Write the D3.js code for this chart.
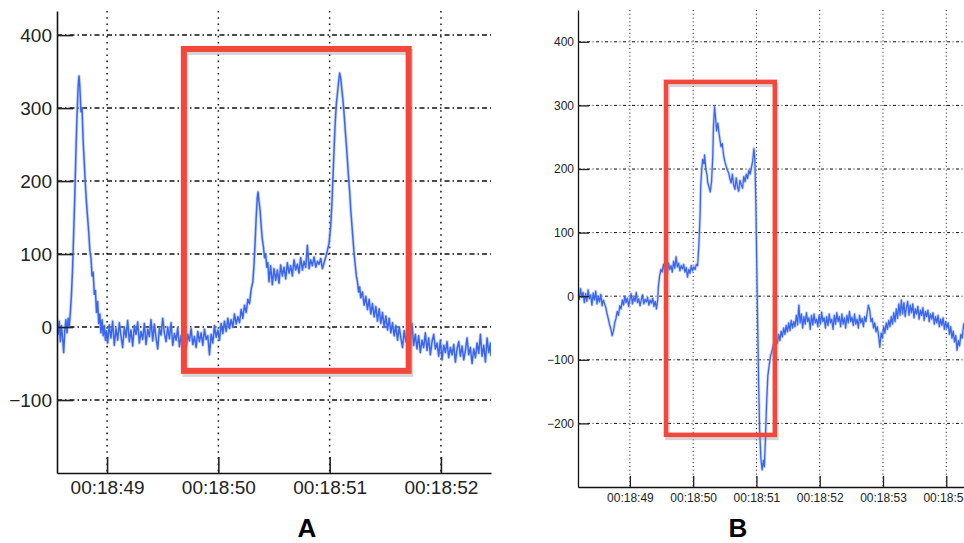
<!DOCTYPE html>
<html>
<head>
<meta charset="utf-8">
<script src="https://cdn.jsdelivr.net/npm/d3@7"></script>
<style>
  body { margin: 0; background: #fff; }
  svg { display: block; font-family: "Liberation Sans", Arial, sans-serif; }
</style>
</head>
<body>
<svg id="chart" width="964" height="543"></svg>
<script>
// samples as [seconds after 00:18:00, value]
var signalA = [
  [48.55,5],[48.56,-10],[48.57,8],[48.58,-20],[48.59,2],[48.60,-15],[48.61,-35],[48.62,-5],[48.63,10],[48.64,-8],
  [48.65,12],[48.66,0],[48.67,20],[48.68,45],[48.69,80],[48.70,130],[48.71,180],[48.72,240],[48.73,290],[48.74,330],
  [48.748,344],[48.755,330],[48.765,295],[48.775,300],[48.785,255],[48.795,225],[48.805,195],[48.815,170],[48.825,150],
  [48.835,130],[48.845,105],[48.855,95],[48.865,70],[48.875,75],[48.885,45],[48.895,50],[48.905,20],[48.915,35],
  [48.925,5],[48.935,18],[48.945,-8],[48.955,10],[48.965,-12],[48.975,2],[48.985,-18],[48.995,-5],
  [49.005,-22],[49.02,3],[49.035,-15],[49.05,8],[49.065,-25],[49.08,-2],[49.095,-18],[49.11,6],[49.125,-12],[49.14,-28],
  [49.155,0],[49.17,-14],[49.185,9],[49.2,-20],[49.215,-4],[49.23,-26],[49.245,2],[49.26,-10],[49.275,7],[49.29,-22],
  [49.305,-6],[49.32,-17],[49.335,5],[49.35,-24],[49.365,-3],[49.38,-13],[49.395,10],[49.41,-19],[49.425,4],[49.44,-15],
  [49.455,-30],[49.47,-2],[49.485,-11],[49.5,12],[49.515,-8],[49.53,-20],[49.545,0],[49.56,-16],[49.575,6],[49.59,-25],
  [49.605,-9],[49.62,-18],[49.635,-1],[49.65,-27],[49.665,-12],[49.68,-22],[49.695,-4],[49.71,-30],[49.725,-10],[49.74,-19],
  [49.755,-2],[49.77,-24],[49.785,-13],[49.8,-28],[49.815,-6],[49.83,-20],[49.845,-8],[49.86,-25],[49.875,-3],[49.89,-17],
  [49.905,-12],[49.92,-38],[49.935,-10],[49.95,-22],[49.965,2],[49.98,-14],[49.995,-4],[50.01,-18],[50.025,5],[50.04,-9],
  [50.055,8],[50.07,-6],[50.085,12],[50.1,-2],[50.115,10],[50.13,0],[50.145,18],[50.16,4],[50.175,14],[50.19,6],
  [50.205,24],[50.22,12],[50.235,30],[50.25,20],[50.265,38],[50.28,32],[50.295,52],[50.31,62],[50.32,85],[50.33,115],
  [50.34,150],[50.35,178],[50.357,185],[50.365,172],[50.375,160],[50.385,138],[50.395,120],[50.405,110],[50.415,95],
  [50.425,100],[50.435,82],[50.445,88],[50.455,62],[50.47,84],[50.485,58],[50.5,80],[50.515,64],[50.53,78],[50.545,60],
  [50.56,85],[50.575,70],[50.59,82],[50.605,66],[50.62,88],[50.635,74],[50.65,84],[50.665,70],[50.68,92],[50.695,78],
  [50.71,86],[50.725,74],[50.74,95],[50.755,78],[50.77,90],[50.785,82],[50.8,112],[50.815,80],[50.83,92],[50.845,84],
  [50.86,96],[50.875,82],[50.89,90],[50.905,86],[50.92,94],[50.935,80],[50.95,88],[50.965,96],[50.98,105],[50.995,115],
  [51.01,140],[51.02,168],[51.03,205],[51.04,245],[51.05,280],[51.06,305],[51.07,320],[51.08,335],[51.09,348],[51.1,340],
  [51.11,325],[51.12,310],[51.13,292],[51.14,270],[51.15,250],[51.16,228],[51.17,205],[51.18,185],[51.19,160],[51.2,140],
  [51.21,120],[51.22,100],[51.23,85],[51.24,70],[51.25,62],[51.26,48],[51.27,55],[51.28,40],[51.295,48],[51.31,30],
  [51.325,42],[51.34,24],[51.355,38],[51.37,18],[51.385,32],[51.4,14],[51.415,28],[51.43,8],[51.445,25],[51.46,5],
  [51.475,20],[51.49,0],[51.505,15],[51.52,-4],[51.535,12],[51.55,-8],[51.565,6],[51.58,-12],[51.595,2],[51.61,-18],
  [51.625,0],[51.64,-15],[51.655,-28],[51.67,-5],[51.685,-20],[51.7,-8],[51.715,-45],[51.725,-15],[51.74,5],[51.755,-25],
  [51.77,-10],[51.785,-30],[51.8,-12],[51.815,-35],[51.83,-18],[51.845,-28],[51.86,-8],[51.875,-32],[51.89,-15],[51.905,-38],
  [51.92,-20],[51.935,-10],[51.95,-30],[51.965,-22],[51.98,-40],[51.995,-18],[52.01,-45],[52.025,-25],[52.04,-35],[52.055,-20],
  [52.07,-42],[52.085,-28],[52.1,-38],[52.115,-24],[52.13,-48],[52.145,-30],[52.16,-20],[52.175,-40],[52.19,-26],[52.205,-45],
  [52.22,-32],[52.235,-15],[52.25,-38],[52.265,-28],[52.28,-50],[52.295,-30],[52.31,-42],[52.325,-22],[52.34,-36],[52.355,-10],
  [52.37,-40],[52.385,-25],[52.4,-48],[52.415,-15],[52.43,-35],[52.445,-22],[52.45,-40]
];

var signalB = [
  [48.18,8],[48.2,-5],[48.22,12],[48.24,-2],[48.26,6],[48.28,-10],[48.3,4],[48.32,-8],[48.34,10],[48.36,-4],
  [48.38,2],[48.4,-14],[48.42,5],[48.44,-6],[48.46,8],[48.48,-12],[48.5,0],[48.52,-9],[48.54,3],[48.56,-15],
  [48.58,-6],[48.6,-12],[48.62,-18],[48.64,-28],[48.66,-36],[48.68,-45],[48.7,-52],[48.72,-62],[48.74,-55],[48.76,-42],
  [48.78,-35],[48.8,-24],[48.82,-30],[48.84,-15],[48.86,-20],[48.88,-6],[48.9,-14],[48.92,0],[48.94,-10],[48.96,-3],
  [48.98,-16],[49.0,-5],[49.02,4],[49.04,-12],[49.06,-2],[49.08,-8],[49.1,6],[49.12,-10],[49.14,-4],[49.16,-15],
  [49.18,-6],[49.2,2],[49.22,-12],[49.24,-5],[49.26,-9],[49.28,-2],[49.3,-14],[49.32,-6],[49.34,-11],[49.36,-3],
  [49.38,-16],[49.4,-8],[49.42,-20],[49.44,-5],[49.45,15],[49.47,32],[49.49,42],[49.51,38],[49.53,50],[49.55,40],
  [49.57,46],[49.59,36],[49.61,52],[49.63,42],[49.65,48],[49.67,38],[49.69,55],[49.71,44],[49.73,62],[49.75,46],
  [49.77,52],[49.79,40],[49.81,48],[49.83,43],[49.85,50],[49.87,38],[49.89,45],[49.91,30],[49.93,42],[49.95,36],
  [49.97,48],[49.99,40],[50.01,46],[50.03,42],[50.05,50],[50.07,48],[50.09,80],[50.11,130],[50.12,175],[50.14,205],
  [50.15,215],[50.17,208],[50.18,222],[50.2,200],[50.22,190],[50.23,178],[50.25,172],[50.27,164],[50.29,180],[50.31,220],
  [50.32,265],[50.338,298],[50.35,285],[50.37,260],[50.39,272],[50.41,255],[50.44,235],[50.46,240],[50.48,222],[50.5,212],
  [50.52,205],[50.54,198],[50.56,194],[50.58,185],[50.6,178],[50.62,192],[50.64,175],[50.66,168],[50.68,186],[50.7,172],
  [50.72,165],[50.74,182],[50.76,175],[50.78,170],[50.8,188],[50.82,180],[50.84,192],[50.86,185],[50.88,198],[50.9,192],
  [50.92,202],[50.94,212],[50.96,232],[50.975,215],[50.99,150],[51.005,50],[51.02,-50],[51.035,-140],[51.05,-210],[51.07,-255],
  [51.09,-273],[51.11,-258],[51.125,-268],[51.14,-230],[51.16,-170],[51.18,-125],[51.2,-110],[51.22,-95],[51.24,-88],[51.27,-76],
  [51.29,-82],[51.31,-68],[51.33,-74],[51.35,-60],[51.37,-70],[51.39,-55],[51.41,-64],[51.43,-50],[51.45,-60],[51.47,-46],
  [51.49,-56],[51.51,-42],[51.53,-54],[51.55,-38],[51.57,-50],[51.59,-40],[51.61,-48],[51.63,-30],[51.65,-45],[51.67,-14],
  [51.69,-42],[51.71,-28],[51.73,-50],[51.75,-32],[51.77,-44],[51.79,-26],[51.81,-40],[51.83,-34],[51.85,-52],[51.87,-30],
  [51.89,-45],[51.91,-28],[51.93,-42],[51.95,-36],[51.97,-48],[51.99,-30],[52.01,-44],[52.03,-25],[52.05,-40],[52.07,-34],
  [52.09,-50],[52.11,-32],[52.13,-46],[52.15,-28],[52.17,-42],[52.19,-36],[52.21,-52],[52.23,-30],[52.25,-44],[52.27,-26],
  [52.29,-40],[52.31,-32],[52.33,-48],[52.35,-28],[52.37,-44],[52.39,-34],[52.41,-50],[52.43,-30],[52.45,-42],[52.47,-24],
  [52.49,-40],[52.51,-33],[52.53,-46],[52.55,-28],[52.57,-44],[52.59,-36],[52.61,-50],[52.63,-30],[52.65,-42],[52.67,-35],
  [52.69,-48],[52.71,-32],[52.73,-40],[52.75,-26],[52.77,-14],[52.79,-22],[52.81,-40],[52.83,-35],[52.85,-50],[52.87,-42],
  [52.89,-56],[52.91,-48],[52.93,-62],[52.95,-80],[52.97,-58],[52.99,-66],[53.01,-48],[53.03,-58],[53.05,-42],[53.07,-52],
  [53.09,-38],[53.11,-48],[53.13,-32],[53.15,-44],[53.17,-26],[53.19,-40],[53.21,-20],[53.23,-35],[53.25,-12],[53.27,-30],
  [53.29,-6],[53.31,-28],[53.33,-10],[53.35,-32],[53.37,-18],[53.39,-8],[53.41,-30],[53.43,-14],[53.45,-26],[53.47,-12],
  [53.49,-34],[53.51,-20],[53.53,-28],[53.55,-16],[53.57,-36],[53.59,-22],[53.61,-30],[53.63,-18],[53.65,-38],[53.67,-24],
  [53.69,-32],[53.71,-22],[53.73,-40],[53.75,-28],[53.77,-36],[53.79,-26],[53.81,-44],[53.83,-32],[53.85,-42],[53.87,-30],
  [53.89,-48],[53.91,-36],[53.93,-46],[53.95,-34],[53.97,-52],[53.99,-40],[54.01,-50],[54.03,-42],[54.05,-60],[54.07,-48],
  [54.09,-66],[54.11,-55],[54.13,-72],[54.15,-62],[54.17,-85],[54.19,-70],[54.21,-78],[54.23,-60],[54.25,-66],[54.27,-48],
  [54.28,-42]
];

var yTicksA = [-100, 0, 100, 200, 300, 400];
var yTicksB = [-200, -100, 0, 100, 200, 300, 400];
var secTicksA = [49, 50, 51, 52];
var secTicksB = [49, 50, 51, 52, 53, 54];
var timeLabelsA = ["00:18:49", "00:18:50", "00:18:51", "00:18:52"];
var timeLabelsB = ["00:18:49", "00:18:50", "00:18:51", "00:18:52", "00:18:53", "00:18:54"];
// highlighted region: [t start, t end, value low, value high]
var boxA = [49.69, 51.71, -60, 381];
var boxB = [49.57, 51.29, -218, 337];

var svg = d3.select('#chart');

var panels = [
  { name: 'A', data: signalA, yTicks: yTicksA, xTicks: secTicksA, xLabels: timeLabelsA, box: boxA,
    xDomain: [48.55, 52.45], yDomain: [-200, 433],
    left: 57, right: 491, top: 11, bottom: 473,
    font: 19, tick: 16, padY: 5, padX: 7.5, axisW: 1.6, gridW: 1.5,
    hDash: '5,3,1.5,3', vDash: '1.6,4.6', lineW: 1.5, boxW: 6, labelX: 307 },
  { name: 'B', data: signalB, yTicks: yTicksB, xTicks: secTicksB, xLabels: timeLabelsB, box: boxB,
    xDomain: [48.18, 54.28], yDomain: [-300, 450],
    left: 578, right: 964, top: 10, bottom: 487,
    font: 12, tick: 11, padY: 4, padX: 6.5, axisW: 1.3, gridW: 1,
    hDash: '3,2.5,1,2.5', vDash: '1,2.8', lineW: 1.3, boxW: 4.5, labelX: 738 }
];

panels.forEach(function (p) {
  var x = d3.scaleLinear().domain(p.xDomain).range([p.left, p.right]);
  var y = d3.scaleLinear().domain(p.yDomain).range([p.bottom, p.top]);
  var g = svg.append('g').attr('class', 'panel-' + p.name);

  // grid
  g.selectAll('.hgrid')
    .data(p.yTicks)
    .enter()
    .append('line')
    .attr('x1', p.left)
    .attr('x2', p.right)
    .attr('y1', function (d) { return y(d); })
    .attr('y2', function (d) { return y(d); })
    .attr('stroke', '#111')
    .attr('stroke-width', p.gridW)
    .attr('stroke-dasharray', p.hDash);

  g.selectAll('.vgrid')
    .data(p.xTicks)
    .enter()
    .append('line')
    .attr('x1', function (d) { return x(d); })
    .attr('x2', function (d) { return x(d); })
    .attr('y1', p.top)
    .attr('y2', p.bottom)
    .attr('stroke', '#111')
    .attr('stroke-width', p.gridW)
    .attr('stroke-dasharray', p.vDash);

  // signal
  svg.append('clipPath')
    .attr('id', 'clip' + p.name)
    .append('rect')
    .attr('x', p.left)
    .attr('y', p.top)
    .attr('width', p.right - p.left)
    .attr('height', p.bottom - p.top);

  var line = d3.line()
    .x(function (d) { return x(d[0]); })
    .y(function (d) { return y(d[1]); });

  var lines = g.append('g').attr('clip-path', 'url(#clip' + p.name + ')');
  lines.append('path')
    .datum(p.data)
    .attr('d', line)
    .attr('fill', 'none')
    .attr('stroke', '#9fb3f6')
    .attr('stroke-width', p.lineW + 1.8)
    .attr('stroke-opacity', 0.5)
    .attr('stroke-linejoin', 'round');
  lines.append('path')
    .datum(p.data)
    .attr('d', line)
    .attr('fill', 'none')
    .attr('stroke', '#3a66ef')
    .attr('stroke-width', p.lineW)
    .attr('stroke-linejoin', 'round');

  // axes
  var yAxis = d3.axisLeft(y)
    .tickValues(p.yTicks)
    .tickSizeInner(-p.tick)
    .tickSizeOuter(0)
    .tickPadding(p.padY)
    .tickFormat(d3.format('d'));

  var xAxis = d3.axisBottom(x)
    .tickValues(p.xTicks)
    .tickSizeInner(-p.tick)
    .tickSizeOuter(0)
    .tickPadding(p.padX)
    .tickFormat(function (d, i) { return p.xLabels[i]; });

  var ya = g.append('g')
    .attr('transform', 'translate(' + p.left + ',0)')
    .call(yAxis);
  var xa = g.append('g')
    .attr('transform', 'translate(0,' + p.bottom + ')')
    .call(xAxis);

  [ya, xa].forEach(function (a) {
    a.attr('font-family', null).attr('font-size', p.font);
    a.select('.domain').attr('stroke', '#111').attr('stroke-width', p.axisW);
    a.selectAll('.tick line').attr('stroke', '#222').attr('stroke-width', p.axisW);
    a.selectAll('.tick text').attr('fill', '#222');
  });

  // highlight box with a soft shadow
  var bx = x(p.box[0]), by = y(p.box[3]);
  var bw = x(p.box[1]) - bx, bh = y(p.box[2]) - by;
  g.append('rect')
    .attr('x', bx + 1.5).attr('y', by + 3)
    .attr('width', bw).attr('height', bh)
    .attr('fill', 'none')
    .attr('stroke', '#888')
    .attr('stroke-opacity', 0.35)
    .attr('stroke-width', p.boxW);
  g.append('rect')
    .attr('x', bx).attr('y', by)
    .attr('width', bw).attr('height', bh)
    .attr('fill', 'none')
    .attr('stroke', '#f4473b')
    .attr('stroke-width', p.boxW);

  // panel letter
  g.append('text')
    .attr('x', p.labelX)
    .attr('y', 537)
    .attr('text-anchor', 'middle')
    .attr('font-size', 26)
    .attr('font-weight', 'bold')
    .attr('fill', '#000')
    .text(p.name);
});
</script>
</body>
</html>
